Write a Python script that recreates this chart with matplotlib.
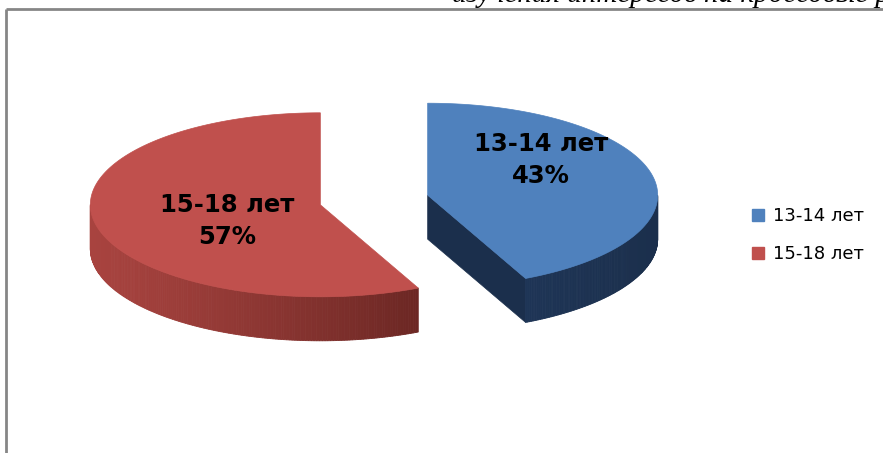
import numpy as np
import matplotlib
matplotlib.use('Agg')
from matplotlib import pyplot as plt  # noqa
from matplotlib.patches import Polygon, Patch

# data
labels = ['13-14 лет', '15-18 лет']
values = [43, 57]
top_colors = ['#4F81BD', '#C0504D']
side_light = ['#24406A', '#A8433F']
side_dark = ['#1B2F4C', '#4E1916']

# layout (pixels)
W, H = 883, 453
CX, CY = 374, 200
A, B = 230, 92
DEPTH = 44
EXPLODE = 55
label_pos = [(541, 160), (227, 221)]


def mix(c1, c2, t):
    c1 = np.array(matplotlib.colors.to_rgb(c1))
    c2 = np.array(matplotlib.colors.to_rgb(c2))
    return tuple(c1 + (c2 - c1) * t)


def pt(cx, cy, ang):
    return cx + A * np.cos(ang), cy - B * np.sin(ang)


fig = plt.figure(figsize=(W / 100, H / 100), dpi=100)
ax = fig.add_axes([0, 0, 1, 1])
ax.set_xlim(0, W)
ax.set_ylim(H, 0)
ax.axis('off')

total = sum(values)
start = np.pi / 2
wedges = []
for i, v in enumerate(values):
    sweep = 2 * np.pi * v / total
    t1, t2 = start, start - sweep  # clockwise
    mid = (t1 + t2) / 2
    cx = CX + EXPLODE * np.cos(mid)
    cy = CY - EXPLODE * np.sin(mid) * B / A
    wedges.append((cx, cy, t1, t2))
    start = t2

# draw red (back/left) first, then blue
for i in [1, 0]:
    cx, cy, t1, t2 = wedges[i]
    angs = np.linspace(t1, t2, 300)
    # radial walls
    for t, vis in [(t1, np.cos(t1) < -1e-6), (t2, np.cos(t2) > 1e-6)]:
        if vis:
            ex, ey = pt(cx, cy, t)
            ax.add_patch(Polygon([(cx, cy), (ex, ey), (ex, ey + DEPTH), (cx, cy + DEPTH)],
                                 closed=True, fc=side_dark[i], ec=side_dark[i], lw=0.5))
    # outer side
    for k in range(len(angs) - 1):
        m = (angs[k] + angs[k + 1]) / 2
        if np.sin(m) >= 0:
            continue
        x1, y1 = pt(cx, cy, angs[k])
        x2, y2 = pt(cx, cy, angs[k + 1])
        frac = (x1 - (cx - A)) / (2 * A)
        c = mix(side_light[i], side_dark[i], np.clip(frac, 0, 1) ** 1.2)
        ax.add_patch(Polygon([(x1, y1), (x2, y2), (x2, y2 + DEPTH), (x1, y1 + DEPTH)],
                             closed=True, fc=c, ec=c, lw=0.6))
    # top face
    xs, ys = pt(cx, cy, angs)
    poly = [(cx, cy)] + list(zip(xs, ys))
    ax.add_patch(Polygon(poly, closed=True, fc=top_colors[i], ec=top_colors[i], lw=0.5))

for i, v in enumerate(values):
    x, y = label_pos[i]
    ax.text(x, y, '%s\n%d%%' % (labels[i], v), ha='center', va='center',
            fontsize=17.5, fontweight='bold', linespacing=1.4, color='black')

handles = [Patch(fc=c, ec=c) for c in top_colors]
ax.legend(handles, labels, loc='upper left', bbox_to_anchor=(0.833, 0.578),
          frameon=False, fontsize=13, handlelength=0.65, handleheight=0.65,
          handletextpad=0.55, labelspacing=1.1)

# frame (top and left edge only)
ax.plot([5.5, W], [8.5, 8.5], color='#868686', lw=2, solid_capstyle='butt')
ax.plot([5.5, 5.5], [8.5, H], color='#868686', lw=2, solid_capstyle='butt')

# cut-off heading above the frame
ax.text(452, 1.5, 'изучения интересов на кроссовые ро', fontsize=21, fontstyle='italic',
        family='Liberation Serif', va='baseline', ha='left')

fig.savefig('out.png', dpi=100)
